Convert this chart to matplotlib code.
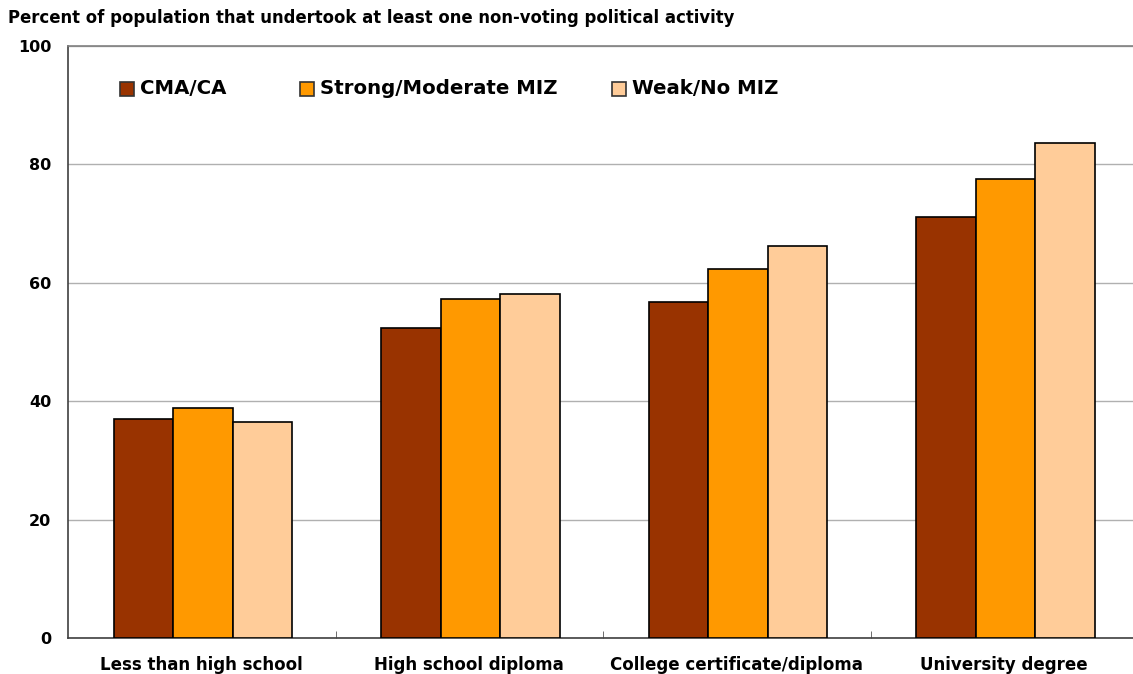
import matplotlib
matplotlib.use("Agg")
import matplotlib.pyplot as plt
import numpy as np
from matplotlib.patches import Rectangle

categories = ["Less than high school", "High school diploma", "College certificate/diploma", "University degree"]
series_names = ["CMA/CA", "Strong/Moderate MIZ", "Weak/No MIZ"]
cma = [37.0, 52.4, 56.8, 71.1]
strong = [38.85, 57.3, 62.3, 77.5]
weak = [36.5, 58.1, 66.2, 83.6]
colors = ["#993300", "#FF9900", "#FFCC99"]
yticks = [0, 20, 40, 60, 80, 100]
title = "Percent of population that undertook at least one non-voting political activity"

plt.rcParams['font.family'] = ['DejaVu Sans']
plt.rcParams['font.weight'] = 'bold'

W, H = 1133, 674
fig = plt.figure(figsize=(W / 100, H / 100), dpi=100)
ax = fig.add_axes([68/W, 1-638/H, 1070/W, 592/H])

x = np.arange(len(categories))
w = 0.2224
for i, (vals, c) in enumerate(zip([cma, strong, weak], colors)):
    ax.bar(x + (i - 1) * w + 0.005, vals, width=w, color=c, edgecolor="black", linewidth=1.2, zorder=3)

ax.set_xlim(-0.5, 3.5)
ax.set_ylim(0, 100)
ax.set_yticks(yticks)
ax.set_yticklabels([str(t) for t in yticks], fontsize=11.5, fontweight='bold')
ax.tick_params(axis='y', length=0, pad=12)
ax.yaxis.grid(True, color="#b0b0b0", linewidth=1.0, zorder=0)
ax.set_axisbelow(True)

ax.set_xticks([0.5, 1.5, 2.5], minor=True)
ax.set_xticks(x)
ax.set_xticklabels(categories, fontsize=12, fontweight='bold')
ax.tick_params(axis='x', which='major', length=0, pad=13)
ax.tick_params(axis='x', which='minor', direction='in', length=5, color='#555555')

ax.spines['right'].set_visible(False)
ax.spines['top'].set_color('#808080')
ax.spines['left'].set_color('#404040')
ax.spines['bottom'].set_color('#404040')
for s in ['left', 'bottom', 'top']:
    ax.spines[s].set_linewidth(1.2)

fig.text(8/W, 1-18/H, title, fontsize=11.9, fontweight='bold', va='center', ha='left')

# manual legend (Excel-style evenly placed entries)
leg_x = [120, 300, 612]
leg_y = 89
sq = 14
for px, name, c in zip(leg_x, series_names, colors):
    fig.patches.append(Rectangle((px / W, 1 - (leg_y + sq / 2) / H), sq / W, sq / H,
                                 transform=fig.transFigure, facecolor=c,
                                 edgecolor='#333333', linewidth=1.2))
    fig.text((px + sq + 6) / W, 1 - leg_y / H, name, fontsize=14.2, fontweight='bold',
             va='center', ha='left')

fig.savefig("out.png", dpi=100)
